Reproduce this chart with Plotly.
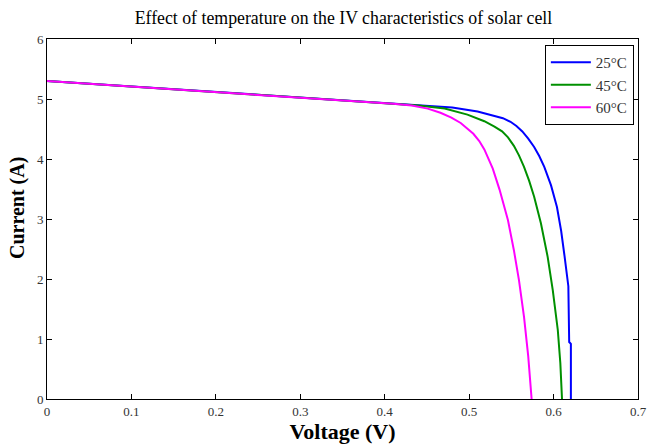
import plotly.graph_objects as go

# Data
v_25 = [0.0, 0.1, 0.2, 0.3, 0.4, 0.45, 0.48, 0.51, 0.53, 0.540, 0.549, 0.556, 0.563,
        0.570, 0.577, 0.583, 0.589, 0.597, 0.604, 0.609, 0.613, 0.6175, 0.6185, 0.6205, 0.6205]
i_25 = [5.30, 5.21, 5.12, 5.02, 4.93, 4.89, 4.86, 4.79, 4.72, 4.68, 4.62, 4.55, 4.46,
        4.34, 4.20, 4.05, 3.87, 3.56, 3.20, 2.80, 2.38, 1.88, 0.95, 0.92, 0.0]

v_45 = [0.0, 0.1, 0.2, 0.3, 0.4, 0.44, 0.471, 0.498, 0.518, 0.530, 0.539, 0.546, 0.553,
        0.559, 0.565, 0.571, 0.577, 0.585, 0.593, 0.599, 0.605, 0.608, 0.610]
i_45 = [5.30, 5.21, 5.12, 5.02, 4.93, 4.89, 4.84, 4.74, 4.63, 4.54, 4.46, 4.36, 4.22,
        4.06, 3.87, 3.64, 3.37, 2.93, 2.37, 1.82, 1.15, 0.60, 0.0]

v_60 = [0.0, 0.1, 0.2, 0.3, 0.38, 0.41, 0.432, 0.451, 0.466, 0.479, 0.490, 0.498, 0.505,
        0.512, 0.518, 0.528, 0.536, 0.546, 0.553, 0.559, 0.565, 0.570, 0.574]
i_60 = [5.30, 5.21, 5.12, 5.02, 4.95, 4.92, 4.89, 4.84, 4.77, 4.69, 4.60, 4.51, 4.42,
        4.30, 4.16, 3.84, 3.49, 2.98, 2.48, 1.98, 1.37, 0.71, 0.0]

series_names = ["25°C", "45°C", "60°C"]
series_colors = ["#0000FF", "#009000", "#FF00FF"]

x_ticks = [0, 0.1, 0.2, 0.3, 0.4, 0.5, 0.6, 0.7]
x_tick_labels = ["0", "0.1", "0.2", "0.3", "0.4", "0.5", "0.6", "0.7"]
y_ticks = [0, 1, 2, 3, 4, 5, 6]

FONT = "Liberation Serif, Times New Roman, serif"

fig = go.Figure()
for v, i, name, color in zip([v_25, v_45, v_60], [i_25, i_45, i_60], series_names, series_colors):
    fig.add_trace(go.Scatter(x=v, y=i, mode="lines", name=name,
                             line=dict(color=color, width=2)))

axis_common = dict(
    showgrid=False, zeroline=False, showline=True, linecolor="black", linewidth=1,
    mirror="ticks", ticks="inside", ticklen=5, tickcolor="black",
    tickfont=dict(family=FONT, size=13, color="#333333"),
    automargin=False, ticklabeloverflow="allow",
)

fig.update_layout(
    width=648, height=447,
    margin=dict(l=47, r=10, t=39, b=48),
    paper_bgcolor="white", plot_bgcolor="white",
    title=dict(text="Effect of temperature on the IV characteristics of solar cell",
               x=0.53, xanchor="center", y=0.96, yanchor="middle",
               font=dict(family=FONT, size=17.8, color="black")),
    xaxis=dict(range=[0, 0.7], tickvals=x_ticks, ticktext=x_tick_labels,
               title=dict(text="<b>Voltage (V)</b>", standoff=5,
                          font=dict(family=FONT, size=22, color="black")),
               **axis_common),
    yaxis=dict(range=[0, 6], tickvals=y_ticks, **axis_common),
    annotations=[dict(text="<b>Current (A)</b>", textangle=-90, xref="paper", yref="paper",
                      x=-0.051, y=0.53, xanchor="center", yanchor="middle", showarrow=False,
                      font=dict(family=FONT, size=20, color="black"))],
    legend=dict(x=0.993, y=0.983, xanchor="right", yanchor="top", itemwidth=40,
                bgcolor="white", bordercolor="black", borderwidth=1,
                font=dict(family=FONT, size=15, color="#333333")),
    showlegend=True,
)

fig.write_html("out.html")
